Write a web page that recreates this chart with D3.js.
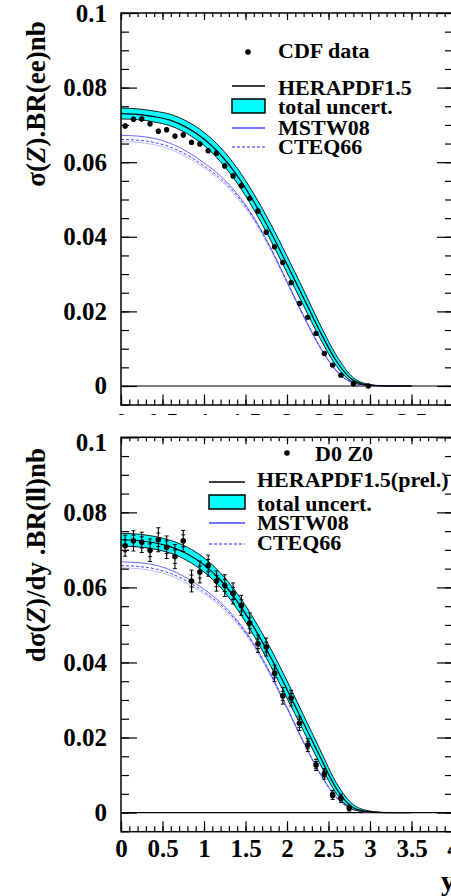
<!DOCTYPE html>
<html><head><meta charset="utf-8">
<script src="https://cdn.jsdelivr.net/npm/d3@7"></script>
<style>
html,body{margin:0;padding:0;background:#fff;}
svg{display:block;}
</style>
</head><body>
<svg id="chart" width="451" height="896"></svg>
<script>
// rapidity grid on which the theory predictions are tabulated
const rapGrid = [0,0.2,0.4,0.6,0.8,1.0,1.2,1.4,1.6,1.8,2.0,2.2,2.4,2.6,2.8,3.0,3.2,3.5];

// upper panel: CDF Z -> ee
const heraCdf   = [.0730,.0728,.0722,.0712,.0692,.0662,.0620,.0564,.0494,.0414,.0326,.0236,.0145,.0065,.0015,.0002,0,0];
const heraCdfHi = [.0745,.0743,.0737,.0728,.0709,.0680,.0639,.0584,.0515,.0436,.0348,.0257,.0164,.0080,.0022,.0004,0,0];
const heraCdfLo = [.0716,.0714,.0708,.0697,.0676,.0645,.0601,.0544,.0473,.0392,.0304,.0215,.0127,.0052,.0010,.0001,0,0];
const mstwCdf   = [.0672,.0670,.0664,.0650,.0628,.0598,.0563,.0515,.0452,.0372,.0280,.0188,.0104,.0040,.0008,.0001,0,0];
const cteqCdf   = [.0661,.0659,.0653,.0640,.0619,.0590,.0556,.0510,.0449,.0370,.0279,.0187,.0103,.0039,.0008,.0001,0,0];
const cteqCdfLo = [.0655,.0653,.0647,.0634,.0613,.0585,.0551,.0505,.0444,.0366,.0276,.0185,.0102,.0038,.0008,.0001,0,0];

const cdfRap = [0.05,0.15,0.25,0.35,0.45,0.55,0.65,0.75,0.85,0.95,1.05,1.15,1.25,1.35,1.45,1.55,1.65,1.75,1.85,1.95,2.05,2.15,2.25,2.35,2.45,2.55,2.65,2.8,2.98];
const cdfVal = [.0697,.0715,.0716,.0703,.0683,.0687,.0670,.0673,.0653,.0649,.0631,.0624,.0590,.0563,.0537,.0503,.0469,.0412,.0373,.0331,.0277,.0221,.0184,.0141,.0087,.0056,.0029,.0006,.0000];
const cdfErr = [.0007,.0007,.0007,.0007,.0007,.0007,.0007,.0007,.0007,.0007,.0007,.0007,.0007,.0007,.0007,.0007,.0007,.0007,.0006,.0006,.0006,.0006,.0005,.0005,.0005,.0004,.0004,.0003,.0002];

// lower panel: D0 Z/gamma* -> ll
const heraD0   = [.0727,.0725,.0719,.0708,.0689,.0660,.0619,.0563,.0494,.0415,.0328,.0238,.0148,.0062,.0013,.0002,0,0];
const heraD0Hi = [.0744,.0742,.0736,.0725,.0707,.0679,.0638,.0584,.0516,.0438,.0351,.0259,.0167,.0077,.0021,.0004,0,0];
const heraD0Lo = [.0710,.0708,.0702,.0691,.0671,.0641,.0600,.0542,.0472,.0392,.0305,.0217,.0129,.0049,.0008,.0001,0,0];
const mstwD0   = [.0668,.0666,.0660,.0646,.0624,.0595,.0560,.0512,.0450,.0371,.0280,.0188,.0104,.0040,.0008,.0001,0,0];
const cteqD0   = [.0658,.0656,.0650,.0637,.0616,.0588,.0554,.0508,.0447,.0369,.0279,.0187,.0103,.0039,.0008,.0001,0,0];
const cteqD0Lo = [.0652,.0650,.0644,.0631,.0610,.0583,.0549,.0503,.0442,.0365,.0276,.0185,.0102,.0038,.0008,.0001,0,0];

const d0Rap  = [0.05,0.15,0.25,0.35,0.45,0.55,0.65,0.75,0.85,0.95,1.05,1.15,1.25,1.35,1.45,1.55,1.65,1.75,1.85,1.95,2.05,2.15,2.25,2.35,2.45,2.55,2.65,2.75];
const d0Val  = [.0711,.0724,.0720,.0699,.0727,.0707,.0682,.0724,.0617,.0641,.0658,.0617,.0605,.0584,.0552,.0505,.0450,.0441,.0371,.0311,.0305,.0238,.0180,.0127,.0103,.0047,.0038,.0012];
const d0Err  = [.0028,.0027,.0027,.0030,.0032,.0030,.0032,.0028,.0029,.0029,.0028,.0027,.0029,.0028,.0027,.0027,.0023,.0024,.0022,.0022,.0021,.0019,.0017,.0015,.0014,.0012,.0011,.0008];
const d0Stat = [.0016,.0015,.0015,.0017,.0018,.0017,.0018,.0016,.0016,.0016,.0016,.0015,.0016,.0016,.0015,.0015,.0013,.0013,.0012,.0012,.0012,.0011,.0010,.0009,.0008,.0007,.0006,.0005];

// axis ticks
const xTickValues = [0,0.5,1,1.5,2,2.5,3,3.5,4];
const xTickLabels = ["0","0.5","1","1.5","2","2.5","3","3.5","4"];
const xMinorValues = d3.range(0, 40.5, 1).map(d => d / 10);
const yTickValues = [0,0.02,0.04,0.06,0.08,0.1];
const yTickLabels = ["0","0.02","0.04","0.06","0.08","0.1"];
const yMinorValues = d3.range(-1, 21, 1).map(d => d * 0.005).filter(d => d >= -0.005 && d <= 0.1);

const svg = d3.select("#chart");
const SERIF = "'Liberation Serif','Times New Roman',serif";

function drawPanel(cfg) {
  const g = svg.append("g");
  if (cfg.cover) {
    g.append("rect").attr("x", 0).attr("y", cfg.cover).attr("width", 451).attr("height", 896 - cfg.cover).attr("fill", "#fff");
  }
  const x = d3.scaleLinear().domain([0, 4]).range([121, 453]);
  const y = d3.scaleLinear().domain([-0.0051, 0.1]).range([cfg.bottom, cfg.top]);
  const L = 121, R = 453, T = cfg.top, B = cfg.bottom;

  const series = rapGrid.map((r, i) => ({r, c: cfg.hera[i], hi: cfg.heraHi[i], lo: cfg.heraLo[i],
    m: cfg.mstw[i], q: cfg.cteq[i], ql: cfg.cteqLo[i]}));
  const curve = d3.curveMonotoneX;
  const clipId = "clip" + cfg.id;
  g.append("clipPath").attr("id", clipId).append("rect").attr("x", L).attr("y", T).attr("width", R - L).attr("height", B - T);
  const plot = g.append("g").attr("clip-path", `url(#${clipId})`);

  // zero line
  plot.append("line").attr("x1", L).attr("x2", R).attr("y1", y(0)).attr("y2", y(0)).attr("stroke", "#000").attr("stroke-width", 1.2);

  // other PDF sets
  plot.append("path").datum(series)
    .attr("d", d3.line().x(d => x(d.r)).y(d => y(d.ql)).curve(curve))
    .attr("fill", "none").attr("stroke", "#b4b4ff").attr("stroke-width", 0.9);
  plot.append("path").datum(series)
    .attr("d", d3.line().x(d => x(d.r)).y(d => y(d.m)).curve(curve))
    .attr("fill", "none").attr("stroke", "#6666ff").attr("stroke-width", 1);
  plot.append("path").datum(series)
    .attr("d", d3.line().x(d => x(d.r)).y(d => y(d.q)).curve(curve))
    .attr("fill", "none").attr("stroke", "#4444ff").attr("stroke-width", 1).attr("stroke-dasharray", "3,2");

  // HERAPDF uncertainty band
  plot.append("path").datum(series)
    .attr("d", d3.area().x(d => x(d.r)).y0(d => y(d.lo)).y1(d => y(d.hi)).curve(curve))
    .attr("fill", "#00ffff").attr("stroke", "none");
  ["hi", "lo"].forEach(k => {
    plot.append("path").datum(series)
      .attr("d", d3.line().x(d => x(d.r)).y(d => y(d[k])).curve(curve))
      .attr("fill", "none").attr("stroke", "#1a1a1a").attr("stroke-width", 1);
  });
  plot.append("path").datum(series)
    .attr("d", d3.line().x(d => x(d.r)).y(d => y(d.c)).curve(curve))
    .attr("fill", "none").attr("stroke", "#000").attr("stroke-width", 1.2);

  // data points
  const pts = cfg.rap.map((r, i) => ({r, v: cfg.val[i], e: cfg.err[i], s: cfg.stat ? cfg.stat[i] : null}));
  const pg = plot.append("g");
  pts.forEach(p => {
    pg.append("line").attr("x1", x(p.r)).attr("x2", x(p.r)).attr("y1", y(p.v - p.e)).attr("y2", y(p.v + p.e))
      .attr("stroke", "#000").attr("stroke-width", cfg.stat ? 1.1 : 2.4);
    if (cfg.stat) {
      [p.v - p.e, p.v + p.e, p.v - p.s, p.v + p.s].forEach(vv => {
        pg.append("line").attr("x1", x(p.r) - 2).attr("x2", x(p.r) + 2).attr("y1", y(vv)).attr("y2", y(vv))
          .attr("stroke", "#000").attr("stroke-width", 1);
      });
    }
    pg.append("circle").attr("cx", x(p.r)).attr("cy", y(p.v)).attr("r", cfg.stat ? 2.8 : 2.7).attr("fill", "#000");
  });

  // axes
  const styleAxis = sel => {
    sel.select(".domain").remove();
    sel.selectAll(".tick line").attr("stroke", "#000").attr("stroke-width", 1.2);
    sel.selectAll("text").attr("font-family", SERIF).attr("font-weight", "bold").attr("font-size", 25).attr("fill", "#000");
  };
  const fmtX = d => xTickLabels[xTickValues.indexOf(d)];
  const fmtY = d => yTickLabels[yTickValues.indexOf(d)];

  g.append("g").attr("transform", `translate(0,${B})`)
    .call(d3.axisBottom(x).tickValues(xMinorValues).tickSize(-5.5).tickFormat("")).call(styleAxis);
  g.append("g").attr("transform", `translate(0,${B})`)
    .call(d3.axisBottom(x).tickValues(xTickValues).tickSize(-10.5).tickPadding(8).tickFormat(fmtX)).call(styleAxis);
  g.append("g").attr("transform", `translate(0,${T})`)
    .call(d3.axisTop(x).tickValues(xMinorValues).tickSize(-4).tickFormat("")).call(styleAxis);
  g.append("g").attr("transform", `translate(0,${T})`)
    .call(d3.axisTop(x).tickValues(xTickValues).tickSize(-7).tickFormat("")).call(styleAxis);

  g.append("g").attr("transform", `translate(${L},0)`)
    .call(d3.axisLeft(y).tickValues(yMinorValues).tickSize(-8).tickFormat("")).call(styleAxis);
  const yl = g.append("g").attr("transform", `translate(${L},0)`)
    .call(d3.axisLeft(y).tickValues(yTickValues).tickSize(-16).tickPadding(14).tickFormat(fmtY)).call(styleAxis);
  if (cfg.topLabelShift) {
    yl.selectAll(".tick").filter(d => d === 0.1).select("text").attr("y", cfg.topLabelShift);
  }
  g.append("g").attr("transform", `translate(${R},0)`)
    .call(d3.axisRight(y).tickValues(yMinorValues).tickSize(-8).tickFormat("")).call(styleAxis);
  g.append("g").attr("transform", `translate(${R},0)`)
    .call(d3.axisRight(y).tickValues(yTickValues).tickSize(-16).tickFormat("")).call(styleAxis);

  // frame
  g.append("rect").attr("x", L).attr("y", T).attr("width", R - L).attr("height", B - T)
    .attr("fill", "none").attr("stroke", "#000").attr("stroke-width", 1.5);

  // y-axis title
  const t = g.append("text").attr("transform", `translate(45,${cfg.titleMid}) rotate(-90)`)
    .attr("text-anchor", "middle").attr("font-family", SERIF).attr("font-weight", "bold").attr("font-size", 27).attr("fill", "#000");
  cfg.title.forEach(([s, it]) => t.append("tspan").attr("font-style", it ? "italic" : "normal").text(s));

  // legend
  const lg = cfg.legend;
  const txt = (tx, ty, s) => g.append("text").attr("x", tx).attr("y", ty).attr("font-family", SERIF)
    .attr("font-weight", "bold").attr("font-size", 22).attr("fill", "#000").text(s);
  g.append("circle").attr("cx", lg.dot[0]).attr("cy", lg.dot[1]).attr("r", 2.8).attr("fill", "#000");
  txt(lg.dataText[0], lg.dataText[1], lg.dataLabel);
  g.append("line").attr("x1", lg.x0).attr("x2", lg.x1).attr("y1", lg.rows[0]).attr("y2", lg.rows[0]).attr("stroke", "#000").attr("stroke-width", 1.5);
  txt(lg.tx, lg.base[0], lg.heraLabel);
  g.append("rect").attr("x", lg.x0).attr("y", lg.rows[1] - 7).attr("width", lg.x1 - lg.x0).attr("height", 14)
    .attr("fill", "#00ffff").attr("stroke", "#000").attr("stroke-width", 1.5);
  txt(lg.tx, lg.base[1], "total uncert.");
  g.append("line").attr("x1", lg.x0).attr("x2", lg.x1).attr("y1", lg.rows[2]).attr("y2", lg.rows[2]).attr("stroke", "#4444ff").attr("stroke-width", 1.5);
  txt(lg.tx, lg.base[2], "MSTW08");
  g.append("line").attr("x1", lg.x0).attr("x2", lg.x1).attr("y1", lg.rows[3]).attr("y2", lg.rows[3]).attr("stroke", "#2222ff").attr("stroke-width", 1.2).attr("stroke-dasharray", "3,2");
  txt(lg.tx, lg.base[3], "CTEQ66");
}

drawPanel({
  id: "cdf", top: 13, bottom: 405,
  hera: heraCdf, heraHi: heraCdfHi, heraLo: heraCdfLo, mstw: mstwCdf, cteq: cteqCdf, cteqLo: cteqCdfLo,
  rap: cdfRap, val: cdfVal, err: cdfErr, stat: null,
  title: [["σ(", false], ["Z", true], [").BR(ee)nb", false]], titleMid: 104,
  legend: {dot: [248, 52], dataText: [278, 58], dataLabel: "CDF data", x0: 232, x1: 265, tx: 278,
           rows: [86, 106, 128, 147], base: [95, 114, 135, 154], heraLabel: "HERAPDF1.5"}
});

drawPanel({
  id: "d0", top: 437.3, bottom: 831.7, cover: 415, topLabelShift: 5,
  hera: heraD0, heraHi: heraD0Hi, heraLo: heraD0Lo, mstw: mstwD0, cteq: cteqD0, cteqLo: cteqD0Lo,
  rap: d0Rap, val: d0Val, err: d0Err, stat: d0Stat,
  title: [["dσ(", false], ["Z", true], [")/dy .BR(ll)nb", false]], titleMid: 555,
  legend: {dot: [287, 453], dataText: [315, 461], dataLabel: "D0 Z0", x0: 209, x1: 245, tx: 257,
           rows: [482, 502, 523, 544], base: [487, 511, 530, 550], heraLabel: "HERAPDF1.5(prel.)"}
});

// x-axis title, lower panel
svg.append("text").attr("x", 441).attr("y", 890).attr("font-family", SERIF).attr("font-weight", "bold")
  .attr("font-size", 28).attr("fill", "#000").text("y");
</script>
</body></html>
